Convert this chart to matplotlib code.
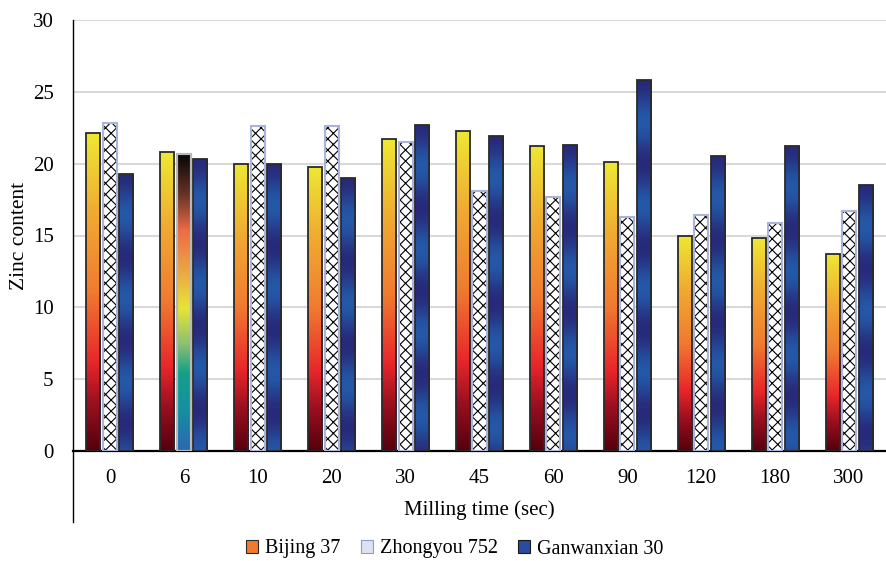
import numpy as np
import matplotlib
matplotlib.use("Agg")
import matplotlib.pyplot as plt
from matplotlib.colors import LinearSegmentedColormap
from matplotlib.patches import Patch
from matplotlib.lines import Line2D

plt.rcParams['font.family'] = ['Liberation Serif', 'DejaVu Serif']
plt.rcParams['hatch.linewidth'] = 0.8

times = ['0', '6', '10', '20', '30', '45', '60', '90', '120', '180', '300']
bijing = [22.1, 20.8, 20.0, 19.8, 21.7, 22.3, 21.2, 20.1, 15.0, 14.8, 13.7]
zhongyou = [22.8, 20.7, 22.6, 22.6, 21.5, 18.1, 17.7, 16.3, 16.4, 15.9, 16.7]
ganwan = [19.3, 20.3, 20.0, 19.0, 22.7, 21.9, 21.3, 25.8, 20.5, 21.2, 18.5]
labels = ['Bijing 37', 'Zhongyou 752', 'Ganwanxian 30']

fire = LinearSegmentedColormap.from_list('fire', [
    (0.0, '#55000E'), (0.15, '#9A1020'), (0.28, '#E8262A'),
    (0.5, '#F07A30'), (0.75, '#F0AA32'), (1.0, '#EEE833')])
rainbow = LinearSegmentedColormap.from_list('rb', [
    (0.0, '#2A68B2'), (0.14, '#1590A0'), (0.26, '#12A088'), (0.36, '#8CC070'),
    (0.48, '#E8E535'), (0.6, '#EBA845'), (0.74, '#EE6B45'), (0.86, '#6A3428'),
    (1.0, '#050505')])
navy = np.array([0x28, 0x2A, 0x7A]) / 255
blue = np.array([0x24, 0x58, 0xA8]) / 255

fig = plt.figure(figsize=(8.86, 5.61), dpi=100)
ax = fig.add_axes([73 / 886, 1 - 451 / 561, 1 - 73 / 886, (451 - 20) / 561])

x = np.arange(len(times))
w = 0.19
off = 0.223


def grad_fill(bar, cmap):
    x0, y0 = bar.get_x(), bar.get_y()
    bw, bh = bar.get_width(), bar.get_height()
    img = np.linspace(0, 1, 256).reshape(-1, 1)
    im = ax.imshow(img, cmap=cmap, extent=[x0, x0 + bw, y0, y0 + bh],
                   origin='lower', aspect='auto', zorder=2.7)
    im.set_clip_path(bar)


def band_fill(bar):
    x0, y0 = bar.get_x(), bar.get_y()
    bw, bh = bar.get_width(), bar.get_height()
    v = np.linspace(0, bh, 300)
    t = 0.5 - 0.5 * np.cos(2 * np.pi * (bh - v) / 5.8)
    img = (navy[None, :] * (1 - t[:, None]) + blue[None, :] * t[:, None])
    img = img.reshape(-1, 1, 3)
    im = ax.imshow(img, extent=[x0, x0 + bw, y0, y0 + bh],
                   origin='lower', aspect='auto', zorder=2.7)
    im.set_clip_path(bar)


b1 = ax.bar(x - off, bijing, w, facecolor='none', edgecolor='#2a2a2a', lw=1.3, zorder=3)
for b in b1:
    grad_fill(b, fire)

b2 = ax.bar(x, zhongyou, w, facecolor='white', edgecolor='black', lw=0,
            hatch='xxx', zorder=2.6)
ax.bar(x, zhongyou, w, facecolor='none', edgecolor='#A9B4D8', lw=1.5, zorder=3)
# the 6 sec bar is drawn with a colour gradient
b2[1].set_hatch(None)
grad_fill(b2[1], rainbow)
ax.bar(x[1], zhongyou[1], w, facecolor='none', edgecolor='#B8B8B8', lw=1.5, zorder=3.1)

b3 = ax.bar(x + off, ganwan, w, facecolor='none', edgecolor='#2a2a2a', lw=1.3, zorder=3)
for b in b3:
    band_fill(b)

ax.set_xlim(-0.5, len(times) - 0.5)
ax.set_ylim(0, 30)
ax.set_yticks(range(0, 31, 5))
ax.set_xticks(x)
ax.set_xticklabels(times)
ax.tick_params(length=0, labelsize=15, colors='black')
ax.tick_params(axis='x', pad=13)
ax.tick_params(axis='y', pad=14)
ax.grid(axis='y', color='#D9D9D9', lw=1.5, zorder=0)
ax.set_axisbelow(True)
for s in ['top', 'right']:
    ax.spines[s].set_visible(False)
ax.spines['bottom'].set_linewidth(1.6)
ax.spines['left'].set_linewidth(1.0)
ax.spines['left'].set_bounds(0, 30)

ax.set_xlabel('Milling time (sec)', fontsize=15, labelpad=9)
ax.set_ylabel('Zinc content', fontsize=15.5)
ax.yaxis.set_label_coords(-44 / 813, 0.5)

# y axis line continues below the x axis
fig.add_artist(Line2D([73 / 886, 73 / 886], [1 - 522 / 561, 1 - 451 / 561],
                      color='black', lw=1.0))

handles = [Patch(facecolor='#F07A30', edgecolor='#2a2a2a', lw=0.8),
           Patch(facecolor='#DCE2F2', edgecolor='#8E9CC8', lw=0.8),
           Patch(facecolor='#2A4C9F', edgecolor='#1a1a1a', lw=0.8)]
fig.legend(handles, labels, loc='center', bbox_to_anchor=(455 / 886, 1 - 549 / 561),
           ncol=3, frameon=False, fontsize=14.5, handlelength=0.6, handleheight=0.6,
           handletextpad=0.35, columnspacing=1.0)

fig.savefig('out.png', dpi=100)
